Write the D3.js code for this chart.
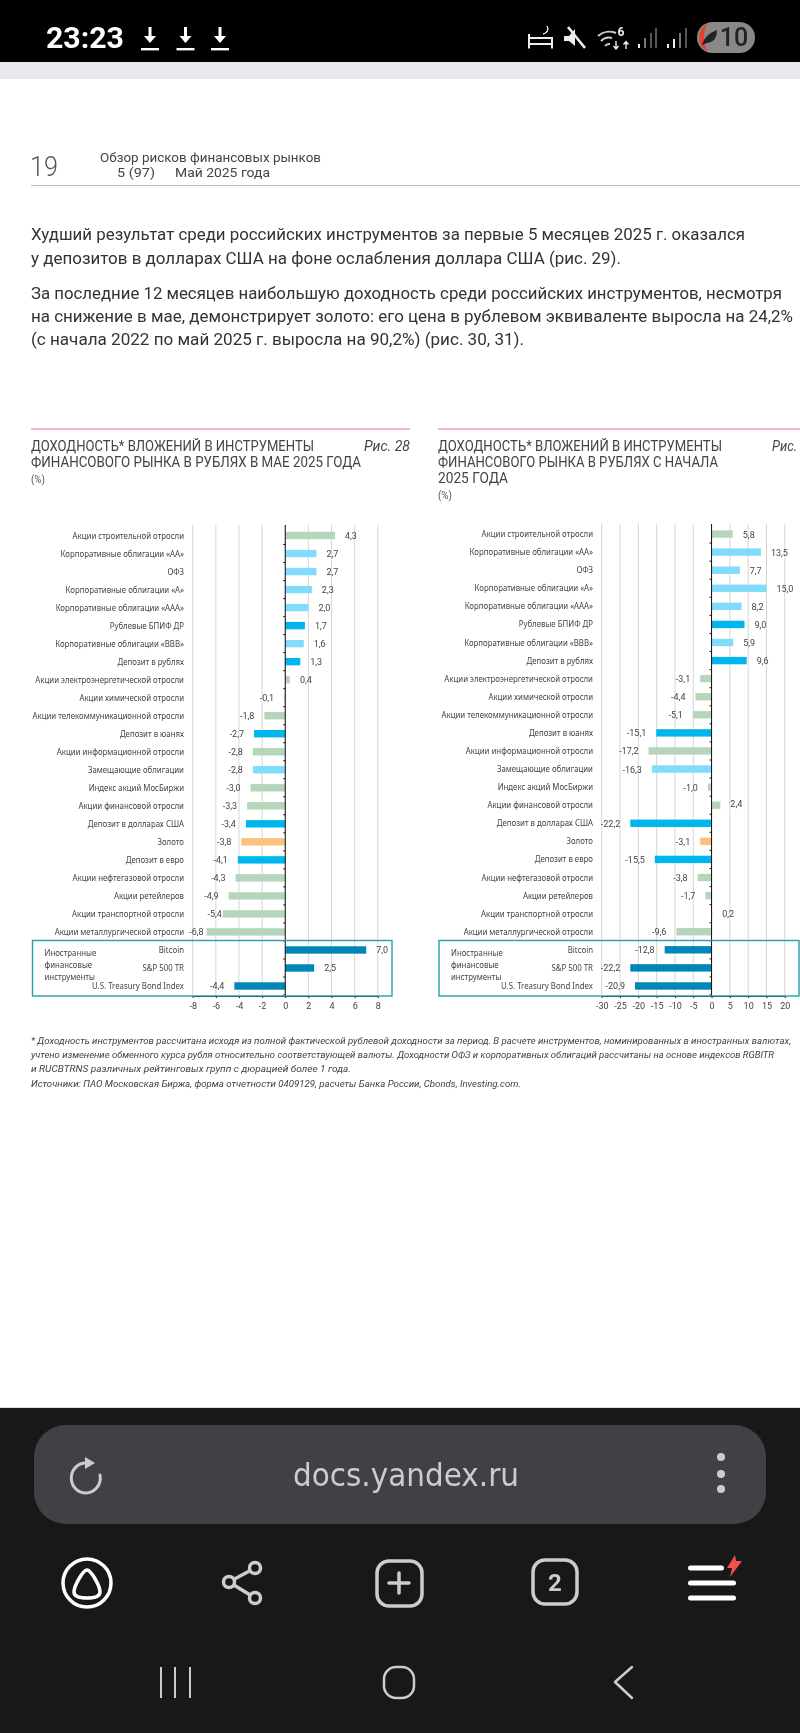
<!DOCTYPE html>
<html lang="ru"><head><meta charset="utf-8">
<script src="https://cdn.jsdelivr.net/npm/d3@7"></script>
<style>html,body{margin:0;padding:0;background:#fff}svg{display:block;filter:blur(.3px)}text{font-family:Roboto,sans-serif}</style>
</head><body><svg id="c" width="800" height="1733"></svg>
<script>
const categories = ["Акции строительной отросли","Корпоративные облигации «АА»","ОФЗ","Корпоративные облигации «А»","Корпоративные облигации «ААА»","Рублевые БПИФ ДР","Корпоративные облигации «ВВВ»","Депозит в рублях","Акции электроэнергетической отросли","Акции химической отросли","Акции телекоммуникационной отросли","Депозит в юанях","Акции информационной отросли","Замещающие облигации","Индекс акций МосБиржи","Акции финансовой отросли","Депозит в долларах США","Золото","Депозит в евро","Акции нефтегазовой отросли","Акции ретейлеров","Акции транспортной отросли","Акции металлургической отросли","Bitcoin","S&P 500 TR","U.S. Treasury Bond Index"];
const kinds = ["stock","bond","bond","bond","bond","cash","bond","cash","stock","stock","stock","cash","stock","bond","stock","stock","cash","gold","cash","stock","stock","stock","stock","foreign","foreign","foreign"];
const mayValues = [4.3,2.7,2.7,2.3,2.0,1.7,1.6,1.3,0.4,-0.1,-1.8,-2.7,-2.8,-2.8,-3.0,-3.3,-3.4,-3.8,-4.1,-4.3,-4.9,-5.4,-6.8,7.0,2.5,-4.4];
const ytdValues = [5.8,13.5,7.7,15.0,8.2,9.0,5.9,9.6,-3.1,-4.4,-5.1,-15.1,-17.2,-16.3,-1.0,2.4,-22.2,-3.1,-15.5,-3.8,-1.7,0.2,-9.6,-12.8,-22.2,-20.9];
const mayTicks = [-8,-6,-4,-2,0,2,4,6,8];
const ytdTicks = [-30,-25,-20,-15,-10,-5,0,5,10,15,20];
const foreignLabel = ["Иностранные","финансовые","инструменты"];
const bodyLines = ["Худший результат среди российских инструментов за первые 5 месяцев 2025 г. оказался","у депозитов в долларах США на фоне ослабления доллара США (рис. 29).","За последние 12 месяцев наибольшую доходность среди российских инструментов, несмотря","на снижение в мае, демонстрирует золото: его цена в рублевом эквиваленте выросла на 24,2%","(с начала 2022 по май 2025 г. выросла на 90,2%) (рис. 30, 31)."];
const noteLines = ["* Доходность инструментов рассчитана исходя из полной фактической рублевой доходности за период. В расчете инструментов, номинированных в иностранных валютах,","учтено изменение обменного курса рубля относительно соответствующей валюты. Доходности ОФЗ и корпоративных облигаций рассчитаны на основе индексов RGBITR","и RUCBTRNS различных рейтинговых групп с дюрацией более 1 года.","Источники: ПАО Московская Биржа, форма отчетности 0409129, расчеты Банка России, Cbonds, Investing.com."];

const colour = {stock:"#b6d6bb",bond:"#80dcfa",cash:"#00b6ec",gold:"#fcc17c",foreign:"#0087b8"};
const svg = d3.select("#c");
const fmt = v => d3.format(".1f")(v).replace(".",",").replace("−","-");
const squeeze = function(){ d3.select(this).attr("textLength",this.getComputedTextLength()*.91).attr("lengthAdjust","spacingAndGlyphs"); };

function T(g,s,x,y,o={}){
  const t=g.append("text").attr("x",x).attr("y",y).attr("dominant-baseline","central").text(s)
    .attr("font-size",o.size||12).attr("fill",o.fill||"#444").attr("text-anchor",o.anchor||"start");
  if(o.family)t.style("font-family",o.family);
  if(o.weight)t.attr("font-weight",o.weight);
  if(o.italic)t.attr("font-style","italic");
  if(o.w)t.attr("textLength",o.w).attr("lengthAdjust","spacingAndGlyphs");
  return t;
}

/* page background */
svg.append("rect").attr("width",800).attr("height",1733).attr("fill","#fff");
svg.append("rect").attr("width",800).attr("height",62).attr("fill","#000");
svg.append("rect").attr("y",62).attr("width",800).attr("height",17).attr("fill","#e8e9ee");
svg.append("rect").attr("y",1408).attr("width",800).attr("height",325).attr("fill","#181818");
svg.append("rect").attr("y",1407).attr("width",800).attr("height",1).attr("fill","#ddd");

/* status bar */
const sb=svg.append("g");
T(sb,"23:23",46,37.5,{size:29,fill:"#fff",weight:700,w:78});
[150,185.5,220].forEach(x=>{
  sb.append("path").attr("d",`M${x-1.5} 27h3v9h4.5l-6 7l-6-7h4.5z`).attr("fill","#fff");
  sb.append("rect").attr("x",x-9).attr("y",48).attr("width",18).attr("height",2.4).attr("fill","#fff");
});
sb.append("path").attr("d","M529 34v14.500M529 44h23M552 37v11.500M529 38h23").attr("stroke","#eee").attr("stroke-width",2).attr("fill","none");
sb.append("path").attr("d","M547 26a5 5 0 0 1 -4 8a5.500 5.500 0 0 0 4 -8z").attr("fill","#eee").attr("stroke","#eee");
sb.append("path").attr("d","M564 36h5l6 -7v17l-6 -5h-5z").attr("fill","#eee");
sb.append("path").attr("d","M568 27l17 21").attr("stroke","#eee").attr("stroke-width",2.6);
sb.append("path").attr("d","M598 36a17 17 0 0 1 18 -3M601 41a11 11 0 0 1 11 -3M605 46a5 5 0 0 1 5 -2").attr("stroke","#ccc").attr("stroke-width",2).attr("fill","none");
T(sb,"6",621,32,{size:12,fill:"#eee",anchor:"middle",weight:700});
sb.append("path").attr("d","M616 41v8M613.5 46l2.5 3l2.5-3M626 49v-7M623.5 44.500l2.500-3l2.500 3").attr("stroke","#eee").attr("stroke-width",1.4).attr("fill","none");
[[638,4,"#eee"],[644,10,"#777"],[650,15,"#555"],[655,20,"#555"],[667,4,"#eee"],[673,9,"#eee"],[679,15,"#777"],[685,20,"#555"]].forEach(d=>
  sb.append("rect").attr("x",d[0]).attr("y",48-d[1]).attr("width",2).attr("height",d[1]).attr("fill",d[2]));
sb.append("rect").attr("x",697).attr("y",22).attr("width",58).attr("height",31).attr("rx",15.5).attr("fill","#888");
sb.append("path").attr("d","M708 23.500a15.500 15.500 0 0 0 0 28q-4 -5 -4 -14q0 -9 4 -14z").attr("fill","#e8402e");
sb.append("path").attr("d","M702 45q2 -10 15 -15q0 12 -10 13z").attr("fill","#222");
T(sb,"10",734,37.5,{size:25,fill:"#222",anchor:"middle",weight:500});

/* page header */
const hd=svg.append("g");
T(hd,"19",30,167,{size:27,fill:"#555",w:28,weight:300});
T(hd,"Обзор рисков финансовых рынков",100,157,{size:13,w:221});
T(hd,"5 (97)",117,172,{size:13,w:38});
T(hd,"Май 2025 года",175,172,{size:13,w:95});
hd.append("rect").attr("x",31).attr("y",185).attr("width",769).attr("height",1).attr("fill","#bdbdbd");

/* body */
const bodyY=[234,258,293,316,339], bodyW=[714,590,751,762,493];
bodyLines.forEach((s,i)=>T(svg,s,31,bodyY[i],{size:17,fill:"#333",w:bodyW[i]}));

/* footnote */
const noteY=[1040,1054,1068,1083], noteW=[760,743,320,490];
noteLines.forEach((s,i)=>T(svg,s,31,noteY[i],{size:9.5,fill:"#444",italic:true,w:noteW[i]}));

/* chart panels */
function panel(o){
  const g=svg.append("g");
  const x=d3.scaleLinear().domain(o.domain).range(o.range);
  const y=d3.scaleBand().domain(categories).range(o.rows);
  const rowCentre=c=>y(c)+y.bandwidth()/2;

  g.append("rect").attr("x",o.ruleX).attr("y",428).attr("width",o.ruleW).attr("height",2).attr("fill","#f7b9c6");
  o.title.forEach((s,i)=>T(g,s,o.ruleX,[445.700,462,478][i],{size:15,fill:"#444",w:o.titleW[i]}));
  T(g,"(%)",o.ruleX,o.pctY,{size:10,fill:"#555",w:14});
  T(g,o.fig,o.figX,445.700,{size:14,fill:"#444",italic:true,w:o.figW});

  g.append("g").selectAll("line").data(o.ticks).join("line")
    .attr("x1",d=>x(d)).attr("x2",d=>x(d)).attr("y1",o.top).attr("y2",996)
    .attr("stroke","#d6d6d6").attr("stroke-width",1);

  g.append("g").selectAll("rect").data(categories).join("rect")
    .attr("x",(c,i)=>Math.min(x(0),x(o.values[i])))
    .attr("width",(c,i)=>Math.abs(x(o.values[i])-x(0)))
    .attr("y",c=>rowCentre(c)-3.7).attr("height",7.4)
    .attr("fill",(c,i)=>colour[kinds[i]]);

  const z=g.append("g").attr("transform",`translate(${x(0)},0)`).call(d3.axisLeft(y).tickSize(2).tickFormat("").tickSizeOuter(2));
  z.selectAll(".tick line").attr("transform",`translate(0,${y.bandwidth()/2})`).attr("stroke","#111");
  z.select(".domain").attr("stroke","none");
  g.append("line").attr("x1",x(0)).attr("x2",x(0)).attr("y1",o.top).attr("y2",996).attr("stroke","#111");

  const ax=g.append("g").attr("transform","translate(0,996)").call(d3.axisBottom(x).tickValues(o.ticks).tickSize(2).tickSizeOuter(0).tickPadding(5).tickFormat(d3.format("d")));
  ax.select(".domain").attr("stroke","#111");
  ax.selectAll(".tick line").attr("stroke","#111");
  ax.selectAll("text").attr("font-size",9).attr("fill","#444").style("font-family","Roboto,sans-serif").text(d=>String(d));

  g.selectAll("text.cat").data(categories).join("text").attr("class","cat")
    .attr("x",o.labelX).attr("y",c=>rowCentre(c)).attr("text-anchor","end").attr("dominant-baseline","central")
    .attr("font-size",8.6).attr("fill","#444").style("font-family","'Noto Sans',sans-serif").text(c=>c).each(squeeze);

  g.selectAll("text.val").data(o.values).join("text").attr("class","val")
    .attr("x",v=>x(v)+(v<0?-(o.gap[v]??10):10)).attr("y",(v,i)=>rowCentre(categories[i])+.5+(o.nudge[i]||0))
    .attr("text-anchor",v=>v<0?"end":"start").attr("dominant-baseline","central")
    .attr("font-size",9).attr("fill","#444").style("font-family","Roboto,sans-serif").text(fmt);

  g.append("rect").attr("x",o.boxX).attr("y",940.500).attr("width",o.boxW).attr("height",55.500)
    .attr("fill","none").attr("stroke","#2b9cb6").attr("stroke-width",1.4);
  foreignLabel.forEach((s,i)=>T(g,s,o.boxX+12,[952.500,964.500,976.500][i],{size:8.6,fill:"#444",family:"'Noto Sans',sans-serif"}).each(squeeze));
}
panel({domain:[-8,8],range:[192.700,377.800],top:525,rows:[526.500,995],values:mayValues,ticks:mayTicks,ruleX:31,ruleW:379,labelX:184,boxX:32.500,boxW:359.500,
  title:["ДОХОДНОСТЬ* ВЛОЖЕНИЙ В ИНСТРУМЕНТЫ","ФИНАНСОВОГО РЫНКА В РУБЛЯХ В МАЕ 2025 ГОДА"],titleW:[283,330],pctY:479,fig:"Рис. 28",figX:364,figW:46,gap:{"-5.4":1,"-6.8":3},nudge:{}});
panel({domain:[-30,20],range:[601.700,784.800],top:524,rows:[525,995],values:ytdValues,ticks:ytdTicks,ruleX:438,ruleW:362,labelX:593,boxX:439,boxW:360,
  title:["ДОХОДНОСТЬ* ВЛОЖЕНИЙ В ИНСТРУМЕНТЫ","ФИНАНСОВОГО РЫНКА В РУБЛЯХ С НАЧАЛА","2025 ГОДА"],titleW:[284,280,70],pctY:495,fig:"Рис.",figX:772,figW:25,gap:{},nudge:{15:-2}});

/* browser bar */
const br=svg.append("g");
br.append("rect").attr("x",34).attr("y",1425).attr("width",732).attr("height",99).attr("rx",32).attr("fill","#404045");
T(br,"docs.yandex.ru",406,1475,{size:32,fill:"#ccc",anchor:"middle",w:226,family:"'DejaVu Sans',sans-serif"});
const st={fill:"none",stroke:"#ccc","stroke-width":3.5,"stroke-linecap":"round","stroke-linejoin":"round"};
const P=(d,s={})=>{const p=br.append("path").attr("d",d);Object.entries({...st,...s}).forEach(([k,v])=>p.attr(k,v));return p;};
P("M86 1463a14.500 15 0 1 0 14 12",{"stroke-width":3});
br.append("path").attr("d","M85 1457l10 6l-10 6z").attr("fill","#ccc");
[1457,1474,1489].forEach(c=>br.append("circle").attr("cx",721).attr("cy",c).attr("r",4).attr("fill","#ccc"));
br.append("ellipse").attr("cx",87).attr("cy",1583).attr("rx",24).attr("ry",24).attr("fill","none").attr("stroke","#fff").attr("stroke-width",3.500);
P("M87 1570c-4 0 -13 16 -13 22c0 5 6 6 13 6s13 -1 13 -6c0 -6 -9 -22 -13 -22z",{stroke:"#fff"});
P("M229 1582L255 1568M229 1582L255 1598");
[[229,1582],[255,1568],[255,1598]].forEach(c=>br.append("circle").attr("cx",c[0]).attr("cy",c[1]).attr("r",5.500).attr("fill","#181818").attr("stroke","#ccc").attr("stroke-width",3.500));
br.append("rect").attr("x",377).attr("y",1561).attr("width",45).attr("height",45).attr("rx",12).attr("fill","none").attr("stroke","#ccc").attr("stroke-width",3.500);
P("M399 1573v20M389 1583h20");
br.append("rect").attr("x",533).attr("y",1560).attr("width",44).attr("height",44).attr("rx",12).attr("fill","none").attr("stroke","#ccc").attr("stroke-width",3.500);
T(br,"2",555,1583,{size:24,fill:"#ccc",anchor:"middle",weight:700});
[[688,36,1568],[688,48,1583],[688,48,1598]].forEach(d=>br.append("rect").attr("x",d[0]).attr("y",d[2]-2.500).attr("width",d[1]).attr("height",5).attr("rx",2.500).attr("fill","#fff"));
br.append("path").attr("d","M735 1555l-8 13h5l-2 9l12 -16h-6z").attr("fill","#f25050");
[161,175,190].forEach(v=>br.append("rect").attr("x",v-1).attr("y",1667).attr("width",2).attr("height",31).attr("fill","#ccc"));
br.append("rect").attr("x",384).attr("y",1667).attr("width",30).attr("height",31).attr("rx",12).attr("fill","none").attr("stroke","#ccc").attr("stroke-width",2.500);
P("M632 1667L615 1682L632 1698",{"stroke-width":2.500});
</script></body></html>
